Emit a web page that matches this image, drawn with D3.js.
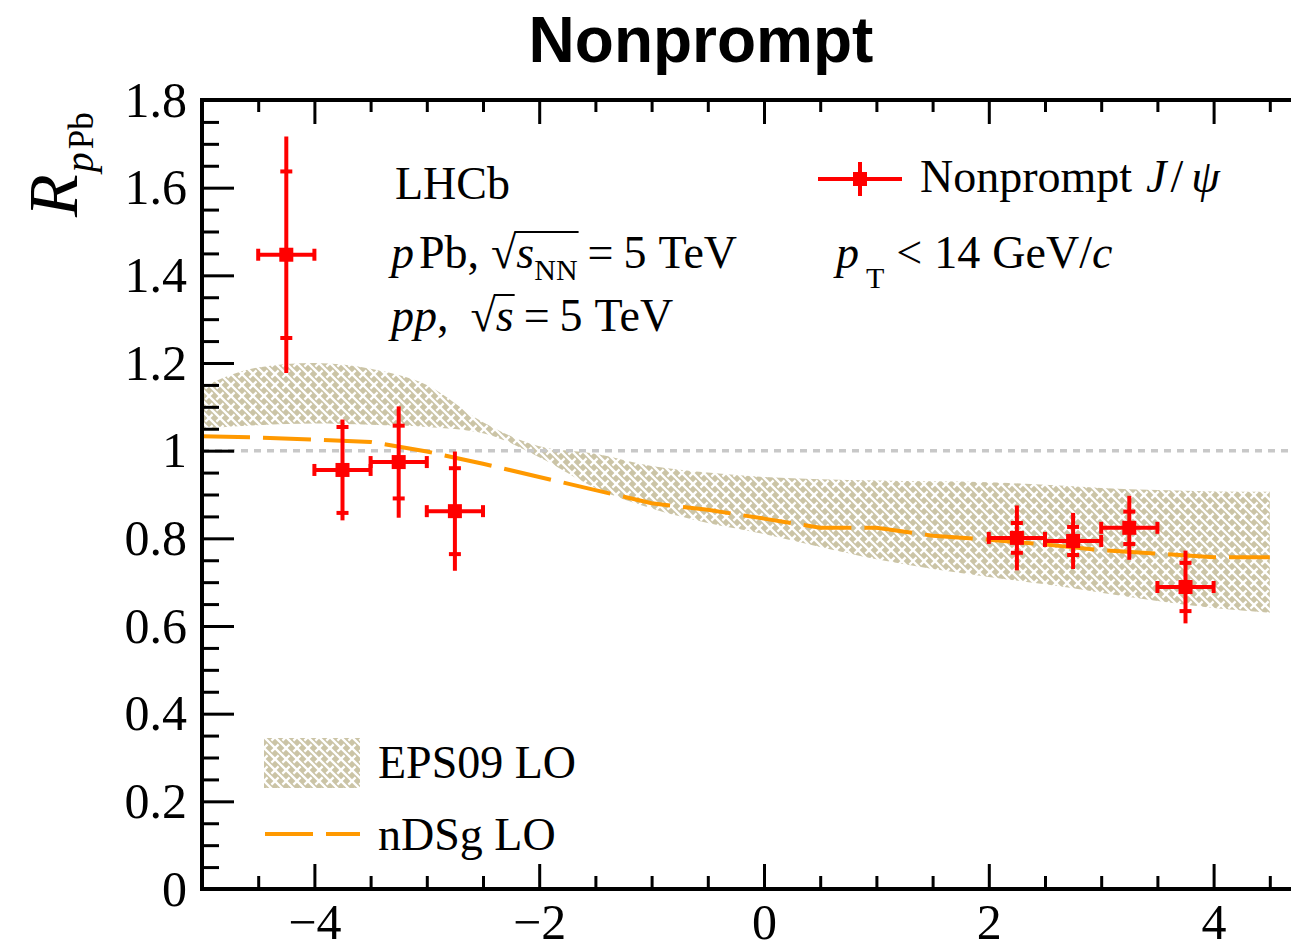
<!DOCTYPE html>
<html>
<head>
<meta charset="utf-8">
<script src="https://cdn.jsdelivr.net/npm/d3@7"></script>
<style>
  html, body { margin: 0; padding: 0; background: #fff; }
  svg { display: block; }
</style>
</head>
<body>
<svg id="chart" width="1291" height="951"></svg>
<script>
// ---------------- data ----------------
const pointX    = [-4.25, -3.75, -3.25, -2.75, 2.25, 2.75, 3.25, 3.75];
const pointY    = [1.447, 0.956, 0.974, 0.862, 0.801, 0.794, 0.824, 0.689];
const pointXErr = [0.25, 0.25, 0.25, 0.25, 0.25, 0.25, 0.25, 0.25];
const statErr   = [0.19, 0.098, 0.083, 0.098, 0.034, 0.032, 0.037, 0.055];
const totErr    = [0.27, 0.115, 0.127, 0.136, 0.074, 0.064, 0.073, 0.083];

const bandX  = [-5, -4.5, -4, -3.5, -3, -2.5, -2, -1.5, -1, -0.5, 0, 0.5, 1, 1.5, 2, 2.5, 3, 3.5, 4, 4.5];
const bandHi = [1.145, 1.19, 1.20, 1.187, 1.15, 1.065, 1.01, 0.993, 0.965, 0.95, 0.94, 0.935, 0.932, 0.93, 0.928, 0.922, 0.915, 0.91, 0.907, 0.906];
const bandLo = [1.05, 1.058, 1.062, 1.059, 1.054, 1.04, 0.985, 0.915, 0.868, 0.835, 0.81, 0.78, 0.752, 0.73, 0.712, 0.695, 0.676, 0.657, 0.641, 0.63];

const ndsgX = [-5, -4.5, -4, -3.5, -3, -2.5, -2, -1.5, -1, -0.5, 0, 0.5, 1, 1.5, 2, 2.5, 3, 3.5, 4, 4.5];
const ndsgY = [1.033, 1.03, 1.025, 1.02, 0.998, 0.97, 0.94, 0.91, 0.88, 0.865, 0.845, 0.824, 0.824, 0.806, 0.797, 0.786, 0.773, 0.765, 0.757, 0.757];

const yTickValues = [0, 0.2, 0.4, 0.6, 0.8, 1, 1.2, 1.4, 1.6, 1.8];
const yTickLabels = ["0", "0.2", "0.4", "0.6", "0.8", "1", "1.2", "1.4", "1.6", "1.8"];
const xTickValues = [-4, -2, 0, 2, 4];
const xTickLabels = ["\u22124", "\u22122", "0", "2", "4"];

// ---------------- layout ----------------
const svg = d3.select("#chart");
const L = 202, R = 1326, T = 100, B = 889;
const x = d3.scaleLinear().domain([-5, 5]).range([L, R]);
const y = d3.scaleLinear().domain([0, 1.8]).range([B, T]);

const serif = "'Liberation Serif', 'Times New Roman', serif";
const RED = "#ff0000";
const ORANGE = "#ff9900";
const TAN = "#cbc4a6";

// pattern (woven look)
const defs = svg.append("defs");
const pat = defs.append("pattern").attr("id", "weave")
  .attr("patternUnits", "userSpaceOnUse").attr("width", 11).attr("height", 11);
pat.append("rect").attr("width", 11).attr("height", 11).attr("fill", TAN);
pat.append("path")
  .attr("d", "M0,0 L11,11 M-1,10 L1,12 M10,-1 L12,1 M0,11 L3.6,7.4 M7.4,3.6 L11,0")
  .attr("stroke", "#fff").attr("stroke-width", 2.3).attr("fill", "none");
defs.append("clipPath").attr("id", "plotclip")
  .append("rect").attr("x", L).attr("y", T).attr("width", R - L).attr("height", B - T);

const plot = svg.append("g").attr("clip-path", "url(#plotclip)");

// band
const bandData = bandX.map((v, i) => ({x: v, lo: bandLo[i], hi: bandHi[i]}));
plot.append("path").datum(bandData)
  .attr("d", d3.area().x(d => x(d.x)).y0(d => y(d.lo)).y1(d => y(d.hi)).curve(d3.curveMonotoneX))
  .attr("fill", "url(#weave)");

// reference line at 1
plot.append("line")
  .attr("x1", x(-5)).attr("x2", x(5)).attr("y1", y(1)).attr("y2", y(1))
  .attr("stroke", "#c8c8c8").attr("stroke-width", 3.5).attr("stroke-dasharray", "7,6");

// nDSg line
const ndsgData = ndsgX.map((v, i) => ({x: v, y: ndsgY[i]}));
plot.append("path").datum(ndsgData)
  .attr("d", d3.line().x(d => x(d.x)).y(d => y(d.y)))
  .attr("fill", "none").attr("stroke", ORANGE).attr("stroke-width", 4)
  .attr("stroke-dasharray", "48,13");

// data points
const pts = pointX.map((v, i) => ({x: v, y: pointY[i], ex: pointXErr[i], s: statErr[i], t: totErr[i]}));
const pg = plot.selectAll("g.pt").data(pts).enter().append("g").attr("class", "pt");
pg.append("line").attr("x1", d => x(d.x)).attr("x2", d => x(d.x))
  .attr("y1", d => y(d.y - d.t)).attr("y2", d => y(d.y + d.t))
  .attr("stroke", RED).attr("stroke-width", 4);
pg.append("line").attr("x1", d => x(d.x - d.ex)).attr("x2", d => x(d.x + d.ex))
  .attr("y1", d => y(d.y)).attr("y2", d => y(d.y))
  .attr("stroke", RED).attr("stroke-width", 4);
[-1, 1].forEach(sg => {
  pg.append("line").attr("x1", d => x(d.x + sg * d.ex)).attr("x2", d => x(d.x + sg * d.ex))
    .attr("y1", d => y(d.y) - 6).attr("y2", d => y(d.y) + 6)
    .attr("stroke", RED).attr("stroke-width", 4);
  pg.append("line").attr("x1", d => x(d.x) - 6).attr("x2", d => x(d.x) + 6)
    .attr("y1", d => y(d.y + sg * d.s)).attr("y2", d => y(d.y + sg * d.s))
    .attr("stroke", RED).attr("stroke-width", 4);
});
pg.append("rect").attr("x", d => x(d.x) - 7).attr("y", d => y(d.y) - 7)
  .attr("width", 14).attr("height", 14).attr("fill", RED);

// ---------------- axes ----------------
function styleAxis(g) {
  g.select(".domain").remove();
  g.selectAll(".tick line").attr("stroke", "#000").attr("stroke-width", 3);
  g.selectAll(".tick text").attr("fill", "#000").style("font-family", serif).style("font-size", "50px");
}
const yMinor = d3.range(0, 1.8001, 0.05).filter(v => Math.abs(v * 5 - Math.round(v * 5)) > 1e-6);
const xMinor = d3.range(-5, 5.0001, 0.5).filter(v => Math.abs(v / 2 - Math.round(v / 2)) > 1e-6);

svg.append("g").attr("transform", `translate(${L},0)`)
  .call(d3.axisLeft(y).tickValues(yTickValues).tickFormat((d, i) => yTickLabels[i]).tickSizeInner(-32).tickSizeOuter(0).tickPadding(15))
  .call(styleAxis);
svg.append("g").attr("transform", `translate(${L},0)`)
  .call(d3.axisLeft(y).tickValues(yMinor).tickFormat("").tickSizeInner(-17).tickSizeOuter(0))
  .call(styleAxis);
svg.append("g").attr("transform", `translate(${R},0)`)
  .call(d3.axisRight(y).tickValues(yTickValues).tickFormat("").tickSizeInner(-32).tickSizeOuter(0))
  .call(styleAxis);
svg.append("g").attr("transform", `translate(0,${B})`)
  .call(d3.axisBottom(x).tickValues(xTickValues).tickFormat((d, i) => xTickLabels[i]).tickSizeInner(-25).tickSizeOuter(0).tickPadding(14))
  .call(styleAxis);
svg.append("g").attr("transform", `translate(0,${B})`)
  .call(d3.axisBottom(x).tickValues(xMinor).tickFormat("").tickSizeInner(-13).tickSizeOuter(0))
  .call(styleAxis);
svg.append("g").attr("transform", `translate(0,${T})`)
  .call(d3.axisTop(x).tickValues(xTickValues).tickFormat("").tickSizeInner(-24).tickSizeOuter(0))
  .call(styleAxis);
svg.append("g").attr("transform", `translate(0,${T})`)
  .call(d3.axisTop(x).tickValues(xMinor).tickFormat("").tickSizeInner(-12).tickSizeOuter(0))
  .call(styleAxis);

// frame
svg.append("path")
  .attr("d", `M${R},${T} L${L},${T} L${L},${B} L${R},${B}`)
  .attr("fill", "none").attr("stroke", "#000").attr("stroke-width", 4).attr("stroke-linecap", "square");

// ---------------- title & labels ----------------
svg.append("text").attr("x", 701).attr("y", 62).attr("text-anchor", "middle")
  .style("font-family", "'Liberation Sans', Arial, sans-serif").style("font-weight", "bold").style("font-size", "64px")
  .text("Nonprompt");

const yl = svg.append("text").attr("transform", "translate(77,217) rotate(-90)")
  .style("font-family", serif).attr("fill", "#000");
yl.append("tspan").style("font-style", "italic").style("font-size", "70px").text("R");
yl.append("tspan").attr("dy", 16).attr("dx", 2).style("font-style", "italic").style("font-size", "40px").text("p");
yl.append("tspan").attr("dx", 3).style("font-size", "35px").text("Pb");

// annotation text
const fs = 46;
function addText(xp, yp) {
  return svg.append("text").attr("x", xp).attr("y", yp)
    .style("font-family", serif).style("font-size", fs + "px").attr("fill", "#000");
}
addText(395, 199).text("LHCb");

function overline(t, idxStart, idxEnd, yb) {
  const n = t.node();
  const x0 = n.getEndPositionOfChar(idxStart).x;
  const x1 = n.getEndPositionOfChar(idxEnd).x;
  svg.append("line").attr("x1", x0 - 2).attr("x2", x1 + 1).attr("y1", yb - 36).attr("y2", yb - 36)
    .attr("stroke", "#000").attr("stroke-width", 2);
}

// pPb line
const t2 = addText(391, 268);
t2.append("tspan").style("font-style", "italic").text("p");
t2.append("tspan").attr("dx", 5).text("Pb,");
t2.append("tspan").attr("dx", 12).text("\u221A");
t2.append("tspan").style("font-style", "italic").text("s");
t2.append("tspan").attr("dy", 12).style("font-size", "30px").text("NN");
t2.append("tspan").attr("dy", -12).attr("dx", 10).text("=");
t2.append("tspan").attr("dx", 10).text("5");
t2.append("tspan").attr("dx", 12).text("TeV");
{
  const str = t2.node().textContent;
  const iR = str.indexOf("\u221A");
  overline(t2, iR, iR + 3, 268);
}

// pp line
const t3 = addText(391, 331);
t3.append("tspan").style("font-style", "italic").text("pp");
t3.append("tspan").text(",");
t3.append("tspan").attr("dx", 22).text("\u221A");
t3.append("tspan").style("font-style", "italic").text("s");
t3.append("tspan").attr("dx", 10).text("=");
t3.append("tspan").attr("dx", 10).text("5");
t3.append("tspan").attr("dx", 12).text("TeV");
{
  const str = t3.node().textContent;
  const iR = str.indexOf("\u221A");
  overline(t3, iR, iR + 1, 331);
}

// legend top-right
const lgY = 179;
svg.append("line").attr("x1", 818).attr("x2", 902).attr("y1", lgY).attr("y2", lgY)
  .attr("stroke", RED).attr("stroke-width", 4);
svg.append("line").attr("x1", 860).attr("x2", 860).attr("y1", lgY - 17).attr("y2", lgY + 17)
  .attr("stroke", RED).attr("stroke-width", 4);
svg.append("rect").attr("x", 853).attr("y", lgY - 7).attr("width", 14).attr("height", 14).attr("fill", RED);
const t4 = addText(920, 192);
t4.append("tspan").text("Nonprompt");
t4.append("tspan").attr("dx", 14).style("font-style", "italic").text("J");
t4.append("tspan").attr("dx", 4).text("/");
t4.append("tspan").attr("dx", 8).style("font-style", "italic").text("\u03C8");

const t5 = addText(836, 268);
t5.append("tspan").style("font-style", "italic").text("p");
t5.append("tspan").attr("dy", 20).attr("dx", 7).style("font-size", "30px").text("T");
t5.append("tspan").attr("dy", -20).attr("dx", 12).text("<");
t5.append("tspan").attr("dx", 12).text("14");
t5.append("tspan").attr("dx", 12).text("GeV/");
t5.append("tspan").style("font-style", "italic").text("c");

// legend bottom-left
svg.append("rect").attr("x", 264).attr("y", 738).attr("width", 96).attr("height", 50)
  .attr("fill", "url(#weave)");
addText(378, 778).text("EPS09 LO");
svg.append("line").attr("x1", 265).attr("x2", 360).attr("y1", 834).attr("y2", 834)
  .attr("stroke", ORANGE).attr("stroke-width", 4).attr("stroke-dasharray", "48,13");
addText(378, 850).text("nDSg LO");
</script>
</body>
</html>
